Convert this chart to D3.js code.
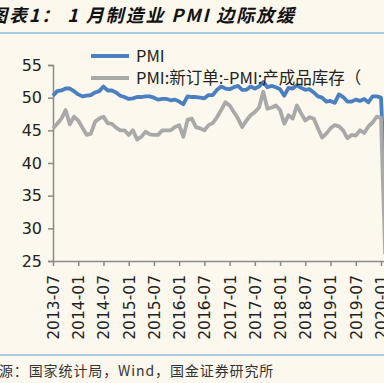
<!DOCTYPE html>
<html><head><meta charset="utf-8">
<script src="https://cdn.jsdelivr.net/npm/d3@7"></script>
<style>
html,body{margin:0;padding:0;background:#fcf8ed;}
svg{display:block;}
</style></head>
<body>
<script>
const months = [];
for (let y = 2013; y <= 2020; y++) for (let m = 1; m <= 12; m++) {
  if ((y === 2013 && m < 7) || (y === 2020 && m > 2)) continue;
  months.push(y + "-" + String(m).padStart(2, "0"));
}
const pmi = [50.3,51.0,51.1,51.4,51.4,51.0,
  50.5,50.2,50.3,50.4,50.8,51.0,51.7,51.1,51.1,50.8,50.3,50.1,
  49.8,49.9,50.1,50.1,50.2,50.2,50.0,49.7,49.8,49.8,49.6,49.7,
  49.4,49.0,50.2,50.1,50.1,50.0,49.9,50.4,50.4,51.2,51.7,51.4,
  51.3,51.6,51.8,51.2,51.2,51.7,51.4,51.7,52.4,51.6,51.8,51.6,
  51.3,50.3,51.5,51.4,51.9,51.5,51.2,51.3,50.8,50.2,50.0,49.4,
  49.5,49.2,50.5,50.1,49.4,49.4,49.7,49.5,49.8,49.3,50.2,50.2,
  50.0,35.7];
const spread = [45.3,46.0,46.8,48.1,45.9,47.1,
  46.5,45.4,44.3,44.5,46.3,46.8,47.1,46.1,46.0,45.4,45.0,45.0,
  44.3,45.0,43.6,44.0,44.8,44.4,44.3,44.3,45.0,45.0,45.0,45.5,
  45.8,44.0,46.6,46.8,45.5,45.3,45.0,45.8,46.1,47.0,48.1,49.3,
  48.8,47.8,46.8,45.5,46.5,47.3,47.8,48.5,50.9,48.3,48.5,48.8,
  48.1,46.0,47.3,46.8,48.8,47.6,46.5,47.0,46.8,45.3,43.9,44.5,
  45.3,45.8,45.6,45.0,43.8,44.3,44.2,45.0,44.6,45.6,46.2,47.1,
  46.9,26.0];
const yTicks = [25,30,35,40,45,50,55];
const xTickLabels = months.filter(m => m.endsWith("-01") || m.endsWith("-07"));
const seriesNames = ["PMI", "PMI:新订单:-PMI:产成品库存（"];
const colors = ["#4a7fc1", "#a9a9a9"];
const title = "图表1： 1 月制造业 PMI 边际放缓";
const source = "来源：国家统计局，Wind，国金证券研究所";

const W = 384, H = 383;
const svg = d3.select("body").append("svg").attr("width", W).attr("height", H);
svg.append("rect").attr("width", W).attr("height", H).attr("fill", "#fcf8ed");

// title
svg.append("text").attr("x", -11).attr("y", 22).text(title)
  .attr("font-family", "Noto Sans CJK SC").attr("font-weight", "bold")
  .attr("font-style", "italic").attr("font-size", 18).attr("letter-spacing", 1.9)
  .attr("fill", "#111");
svg.append("line").attr("x1", 0).attr("x2", W).attr("y1", 33).attr("y2", 33)
  .attr("stroke", "#8fb8d8").attr("stroke-width", 1.5);
svg.append("line").attr("x1", 0).attr("x2", W).attr("y1", 355).attr("y2", 355)
  .attr("stroke", "#8fb8d8").attr("stroke-width", 1.5);
svg.append("text").attr("x", -16).attr("y", 376).text(source)
  .attr("font-family", "Noto Sans CJK SC").attr("font-size", 14).attr("letter-spacing", 0.9)
  .attr("fill", "#333");

const x = d3.scalePoint().domain(months).range([53, 53 + (months.length - 1) * 4.205]);
const y = d3.scaleLinear().domain([25, 55]).range([261, 65]);

const axisColor = "#8a8a8a";
const yAxis = svg.append("g").attr("transform", "translate(53,0)")
  .call(d3.axisLeft(y).tickValues(yTicks).tickSize(5).tickPadding(6));
yAxis.select(".domain").attr("stroke", axisColor).attr("stroke-width", 1.5);
yAxis.selectAll(".tick line").attr("stroke", axisColor).attr("stroke-width", 1.5);
yAxis.selectAll("text").attr("font-family", "DejaVu Sans").attr("font-size", 16).attr("fill", "#222");

const xAxis = svg.append("g").attr("transform", "translate(0,261)")
  .call(d3.axisBottom(x).tickValues(xTickLabels).tickSize(5).tickSizeOuter(0).tickPadding(5));
xAxis.select(".domain").attr("stroke", axisColor).attr("stroke-width", 1.5);
xAxis.selectAll(".tick line").attr("stroke", axisColor).attr("stroke-width", 1.5);
xAxis.selectAll("text").attr("font-family", "DejaVu Sans").attr("font-size", 15.5).attr("fill", "#222")
  .attr("transform", "rotate(-90)").attr("text-anchor", "end").attr("dx", "-14").attr("y", 0)
  .attr("dy", "0.35em");

const line = d3.line().x((d, i) => x(months[i])).y(d => y(d));
[pmi, spread].forEach((s, k) => {
  svg.append("path").datum(s).attr("d", line).attr("fill", "none")
    .attr("stroke", colors[k]).attr("stroke-width", 3.8).attr("stroke-linejoin", "round");
});

// legend
seriesNames.forEach((n, k) => {
  const ly = 56 + k * 22;
  svg.append("line").attr("x1", 91).attr("x2", 129).attr("y1", ly).attr("y2", ly)
    .attr("stroke", colors[k]).attr("stroke-width", 4);
  svg.append("text").attr("x", 136).attr("y", ly).attr("dy", "0.35em").text(n)
    .attr("font-family", "Noto Sans CJK SC").attr("font-size", 16.5).attr("fill", "#222");
});
</script>
</body></html>
